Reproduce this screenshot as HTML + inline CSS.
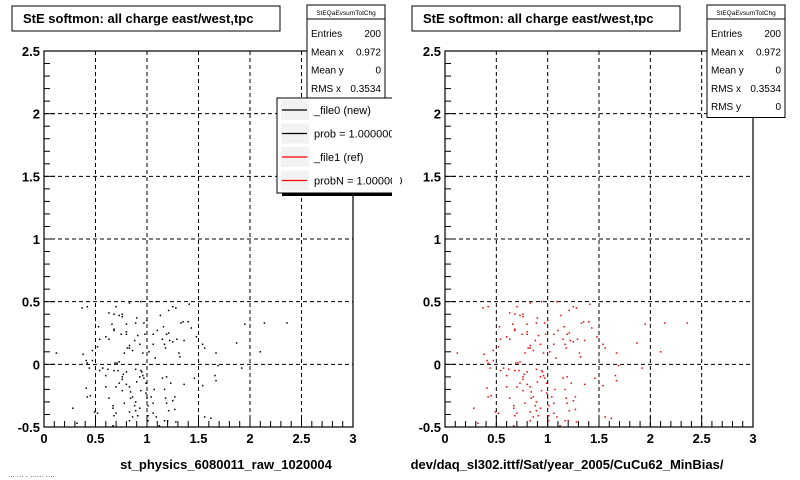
<!DOCTYPE html>
<html><head><meta charset="utf-8"><style>
html,body{margin:0;padding:0;background:#fff;}
svg{display:block;font-family:"Liberation Sans",Arial,sans-serif;}
</style></head><body>
<svg id="c" width="800" height="480" viewBox="0 0 800 480">
<rect width="800" height="480" fill="#fff"/>
</svg>
<script>
const xVals=[.12,.37,.42,.38,.47,.53,.54,.52,.63,.68,.70,.73,.76,.83,.90,.94,.89,.97,1.00,1.09,1.13,1.16,1.21,1.25,1.28,1.33,1.35,1.41,1.43,1.48,1.54,1.56,1.67,1.87,1.95,2.10,2.14,2.36,
.63,.60,.68,.75,.80,.83,.83,.86,.88,.91,.93,.96,.98,1.02,1.06,1.06,1.08,1.10,1.15,1.17,1.18,1.19,1.21,1.22,1.25,1.29,1.31,1.32,1.36,1.40,.80,.81,.78,.71,.69,.66,.68,.76,.80,
.41,.42,.44,.47,.57,.62,.68,.73,.72,.76,.73,.77,.80,.83,.84,.86,.88,.89,.91,.93,.94,.95,.96,.97,.99,.99,1.00,1.01,1.01,1.01,1.04,1.06,1.06,1.07,1.09,1.15,1.17,1.18,1.19,1.19,1.21,1.23,1.25,1.28,1.17,1.12,1.20,1.27,1.27,1.36,1.46,1.54,1.56,1.62,1.66,1.67,1.69,1.92,
.60,.63,.67,.67,.68,.70,.70,.76,.78,.83,.84,.86,.89,.93,.83,.80,.76,.41,.42,.45,.49,.52,.54,.60,.28,.32,.67,.89,.90,.94];
const yVals=[.09,.45,.46,.08,.11,.30,.20,.14,.41,.40,.46,.39,.40,.49,.37,.50,.33,.33,.35,.50,.39,.30,.43,.46,.45,.33,.34,.48,.29,.22,.16,.13,.09,.17,.32,.10,.33,.33,
.20,.22,.27,.24,.24,.15,.13,.11,.19,.23,.16,.09,.24,.10,.16,.24,.05,.27,.20,.16,.13,.24,.25,.19,.18,.20,.09,.06,.19,.34,.26,.13,.09,.01,.01,.32,.28,.38,.32,
.03,.01,-.03,.03,-.03,-.04,-.05,.02,-.05,-.10,-.15,-.08,-.16,-.18,-.22,-.26,-.33,-.37,-.41,-.35,-.21,-.06,-.09,-.11,-.15,-.23,-.27,-.33,-.41,-.45,-.26,-.31,-.39,-.20,-.42,-.11,-.20,-.27,-.10,-.31,-.37,-.15,-.29,-.46,-.45,-.49,-.45,-.36,-.26,-.16,-.11,-.17,-.42,-.43,-.09,-.13,-.01,-.03,
-.09,-.27,-.33,-.35,-.41,-.18,-.39,-.21,-.31,-.38,-.27,-.42,-.30,-.10,-.45,-.06,-.12,-.19,-.26,-.25,-.38,-.39,-.05,-.18,-.35,-.47,-.49,-.04,-.14,-.05];
const xTicks=["0","0.5","1","1.5","2","2.5","3"];
const yTicks=["-0.5","0","0.5","1","1.5","2","2.5"];
const statLabels=["Entries","Mean x","Mean y","RMS x","RMS y"];
const statValues=["200","0.972","0","0.3534","0"];

const NS="http://www.w3.org/2000/svg";
const svg=document.getElementById('c');
function mk(tag,attrs,parent,text){const e=document.createElementNS(NS,tag);for(const k in attrs)e.setAttribute(k,attrs[k]);if(text!==undefined)e.textContent=text;(parent||svg).appendChild(e);return e;}

function panel(px0,px1,color,xtitle,xtitleX,name){
  const py0=51,py1=427;
  const sx=v=>px0+(v-0)/(3-0)*(px1-px0);
  const sy=v=>py1-(v+0.5)/(3)*(py1-py0);
  const g=mk('g',{});
  
  
  for(let i=1;i<6;i++){const v=i*0.5;
    const gl=mk('line',{x1:sx(v),x2:sx(v),y1:py0,y2:py1,stroke:'#000','stroke-width':1,'stroke-dasharray':'4,3'},g);
    
    const v2=-0.5+i*0.5;
    const gl2=mk('line',{x1:px0,x2:px1,y1:sy(v2),y2:sy(v2),stroke:'#000','stroke-width':1,'stroke-dasharray':'4,3'},g);
    
  }
  for(let i=0;i<=30;i++){const v=i*0.1;const L=(i%5==0)?11:6;
    mk('line',{x1:sx(v),x2:sx(v),y1:py1,y2:py1-L,stroke:'#000'},g);
    const vy=-0.5+i*0.1;
    mk('line',{x1:px0,x2:px0+L,y1:sy(vy),y2:sy(vy),stroke:'#000'},g);
  }
  for(let i=0;i<xVals.length;i++){
    const r=mk('rect',{x:sx(xVals[i])-0.75,y:sy(yVals[i])-0.75,width:1.5,height:1.5,fill:color},g);
    
    
  }
  const fr=mk('rect',{x:px0,y:py0,width:px1-px0,height:py1-py0,fill:'none',stroke:'#000','stroke-width':1.2},g);
  
  xTicks.forEach((t,i)=>{const v=i*0.5;
    const e=mk('text',{x:sx(v),y:443,'text-anchor':'middle','font-size':13,'font-weight':'bold'},g,t);
    });
  yTicks.forEach((t,i)=>{const v=-0.5+i*0.5;
    const e=mk('text',{x:px0-4,y:sy(v)+5,'text-anchor':'end','font-size':13,'font-weight':'bold'},g,t);
    });
  const xt=mk('text',{x:xtitleX,y:469,'text-anchor':'middle','font-size':13,'font-weight':'bold'},g,xtitle);
  
}
function titleBox(x){
  const r=mk('rect',{x:x,y:6,width:268,height:25,fill:'#fff',stroke:'#000'});
  
  const t=mk('text',{x:x+11,y:23,'font-size':13,'font-weight':'bold'},svg,'StE softmon: all charge east/west,tpc');
  
}
function statsBox(x,n){
  const h=20+18.5*n;
  const r=mk('rect',{x:x,y:5,width:78,height:h,fill:'#fff',stroke:'#000'});
  
  mk('line',{x1:x,x2:x+78,y1:19,y2:19,stroke:'#000'});
  const hd=mk('text',{x:x+39,y:15,'text-anchor':'middle','font-size':6.5},svg,'StEQaEvsumTotChg');
  
  for(let i=0;i<n;i++){const y=37+18.3*i;
    const a=mk('text',{x:x+4,y:y,'font-size':10},svg,statLabels[i]);
    
    const b=mk('text',{x:x+74,y:y,'text-anchor':'end','font-size':10},svg,statValues[i]);
    }
}
panel(44,353,'#000','st_physics_6080011_raw_1020004',226,'left-scatter-plot');
panel(445,753,'#f00','dev/daq_sl302.ittf/Sat/year_2005/CuCu62_MinBias/',567,'right-scatter-plot');
titleBox(12);titleBox(412);
statsBox(307,4);statsBox(707,5);
const lg=mk('g',{});


mk('rect',{x:282,y:101,width:118,height:95,fill:'#000'},lg);
mk('rect',{x:277,y:98,width:118,height:95,fill:'#fff',stroke:'#000'},lg);
const legT=['_file0 (new)','prob = 1.000000','_file1 (ref)','probN = 1.000000'];
const legC=['#000','#000','#f00','#f00'];
for(let i=0;i<4;i++){const y=110+23.5*i;
  mk('rect',{x:281,y:y-10,width:28,height:20,fill:'#f2f2f2'},lg);
  const l=mk('line',{x1:282,x2:307,y1:y,y2:y,stroke:legC[i],'stroke-width':1.2},lg);
  
  const t=mk('text',{x:314,y:y+4,'font-size':11},lg,legT[i]);
  }
mk('rect',{x:392,y:95,width:8,height:105,fill:'#fff'},lg);
const ft=mk('text',{x:8,y:477,'font-size':8,fill:'#555'},svg,'... ... . ......  ....');

</script>
</body></html>
